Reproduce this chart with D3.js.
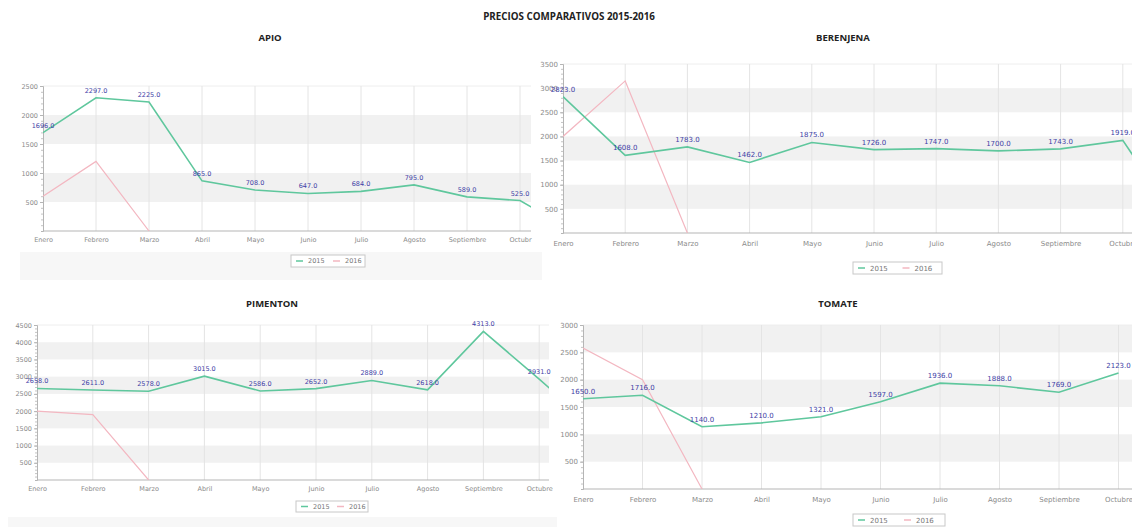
<!DOCTYPE html>
<html>
<head>
<meta charset="utf-8">
<script src="https://cdn.jsdelivr.net/npm/d3@7.9.0/dist/d3.min.js"></script>
<style>
  body { margin: 0; background: #fff; }
  svg { display: block; }
  .ttl { font-family: "Open Sans", sans-serif; font-weight: 700; fill: #222; }
</style>
</head>
<body>
<svg id="chart" width="1132" height="527"></svg>
<script>
// meses visibles + noviembre (recortado por el borde del grafico)
const meses = ["Enero", "Febrero", "Marzo", "Abril", "Mayo", "Junio", "Julio", "Agosto", "Septiembre", "Octubre"];
const mesesEje = [...meses, "Noviembre"];

const apio2015 = [1696, 2297, 2225, 865, 708, 647, 684, 795, 589, 525, 0];
const apio2016 = [600, 1200, 0];
const berenjena2015 = [2823, 1608, 1783, 1462, 1875, 1726, 1747, 1700, 1743, 1919, 0];
const berenjena2016 = [2000, 3150, 0];
const pimenton2015 = [2658, 2611, 2578, 3015, 2586, 2652, 2889, 2618, 4313, 2931, 1500];
const pimenton2016 = [2000, 1900, 0];
const tomate2015 = [1650, 1716, 1140, 1210, 1321, 1597, 1936, 1888, 1769, 2123];
const tomate2016 = [2580, 2000, 0];

const svg = d3.select("#chart");

svg.append("text").attr("class", "ttl")
  .attr("x", 569).attr("y", 20)
  .attr("text-anchor", "middle").attr("font-size", 9.8)
  .text("PRECIOS COMPARATIVOS 2015-2016");

let panelId = 0;
function drawPanel(cfg) {
  const id = "clip" + (panelId++);
  const g = svg.append("g");
  const fs = cfg.fs;

  // franja gris bajo la leyenda
  if (cfg.strip) {
    g.append("rect").attr("x", cfg.strip[0]).attr("y", cfg.strip[1])
      .attr("width", cfg.strip[2]).attr("height", cfg.strip[3])
      .attr("fill", "#f7f7f7");
  }

  g.append("text").attr("class", "ttl")
    .attr("x", cfg.tx).attr("y", cfg.ty)
    .attr("text-anchor", "middle").attr("font-size", 9.5)
    .text(cfg.title);

  const x = d3.scalePoint().domain(mesesEje)
    .range([cfg.x0, cfg.x0 + cfg.step * (mesesEje.length - 1)]);
  const y = d3.scaleLinear().domain([0, cfg.yMax]).range([cfg.yZero, cfg.yTop]);
  const right = cfg.right;

  g.append("clipPath").attr("id", id)
    .append("rect").attr("x", cfg.x0).attr("y", cfg.yTop - 20)
    .attr("width", right - cfg.x0).attr("height", cfg.yZero - cfg.yTop + 20);

  // bandas alternas
  const bands = d3.range(500, cfg.yMax, 1000);
  g.selectAll(".band").data(bands).join("rect")
    .attr("x", cfg.x0).attr("width", right - cfg.x0)
    .attr("y", d => y(d + 500)).attr("height", d => y(d) - y(d + 500))
    .attr("fill", "#f1f1f1");

  g.append("line").attr("x1", cfg.x0).attr("x2", right)
    .attr("y1", cfg.yTop).attr("y2", cfg.yTop).attr("stroke", "#eeeeee");

  // lineas verticales de la grilla
  g.append("g").attr("clip-path", `url(#${id})`)
    .selectAll("line").data(mesesEje).join("line")
    .attr("x1", d => x(d)).attr("x2", d => x(d))
    .attr("y1", cfg.yTop).attr("y2", cfg.yZero)
    .attr("stroke", "#e4e4e4");

  // eje y (menores + mayores)
  const yMinor = g.append("g").attr("transform", `translate(${cfg.x0},0)`)
    .call(d3.axisLeft(y).tickValues(d3.range(100, cfg.yMax + 1, 100)).tickSize(2).tickFormat(""));
  yMinor.select(".domain").attr("stroke", "#b5b5b5");
  yMinor.selectAll(".tick line").attr("stroke", "#c4c4c4");

  const yAxis = g.append("g").attr("transform", `translate(${cfg.x0},0)`)
    .call(d3.axisLeft(y).tickValues(d3.range(500, cfg.yMax + 1, 500)).tickSize(3).tickPadding(2).tickFormat(d3.format("d")));
  yAxis.select(".domain").remove();
  yAxis.selectAll(".tick line").attr("stroke", "#b5b5b5");
  yAxis.selectAll("text").attr("fill", "#8a8a8a").attr("font-size", fs)
    .attr("font-family", "DejaVu Sans, sans-serif");

  // eje x
  const xAxis = g.append("g").attr("transform", `translate(0,${cfg.yZero})`)
    .call(d3.axisBottom(x).tickValues(meses).tickSize(0).tickPadding(cfg.xPad));
  xAxis.select(".domain").attr("d", `M${cfg.x0},0H${right}`).attr("stroke", "#b5b5b5");
  xAxis.selectAll("text").attr("fill", "#8a8a8a").attr("font-size", fs)
    .attr("font-family", "DejaVu Sans, sans-serif");
  if (cfg.lastLabel) {
    xAxis.selectAll(".tick").filter(d => d === "Octubre").select("text").text(cfg.lastLabel);
  }

  const line = d3.line().x(d => x(d.mes)).y(d => y(d.v));
  const toPts = arr => arr.map((v, i) => ({ mes: mesesEje[i], v }));

  const plot = g.append("g").attr("clip-path", `url(#${id})`);
  plot.append("path").datum(toPts(cfg.s2016))
    .attr("d", line).attr("fill", "none")
    .attr("stroke", "#f3b7c1").attr("stroke-width", 1.2);
  plot.append("path").datum(toPts(cfg.s2015))
    .attr("d", line).attr("fill", "none")
    .attr("stroke", "#5fc79d").attr("stroke-width", 1.6);

  // etiquetas de valores 2015
  g.selectAll(".lbl").data(toPts(cfg.s2015).slice(0, meses.length)).join("text")
    .attr("x", d => x(d.mes)).attr("y", d => y(d.v) - 5)
    .attr("text-anchor", "middle")
    .attr("font-family", "DejaVu Sans, sans-serif").attr("font-size", fs)
    .attr("fill", "#3e3ea6")
    .text(d => d3.format(".1f")(d.v));

  // leyenda
  const lg = cfg.legend;
  const leg = g.append("g").attr("transform", `translate(${lg[0]},${lg[1]})`);
  leg.append("rect").attr("width", lg[2]).attr("height", lg[3])
    .attr("fill", "#fff").attr("stroke", "#c8c8c8");
  const items = [["2015", "#5fc79d"], ["2016", "#f3b7c1"]];
  const half = lg[2] / 2;
  items.forEach(([name, col], i) => {
    const ox = 5 + i * half;
    leg.append("line").attr("x1", ox).attr("x2", ox + 7)
      .attr("y1", lg[3] / 2).attr("y2", lg[3] / 2)
      .attr("stroke", col).attr("stroke-width", 1.5);
    leg.append("text").attr("x", ox + 12).attr("y", lg[3] / 2 + fs * 0.36)
      .attr("font-family", "DejaVu Sans, sans-serif").attr("font-size", fs)
      .attr("fill", "#777").text(name);
  });
}

drawPanel({
  title: "APIO", tx: 270, ty: 41, fs: 6.5,
  x0: 43, step: 53, right: 531, lastLabel: "Octubr",
  yMax: 2500, yZero: 231, yTop: 86, xPad: 6,
  s2015: apio2015, s2016: apio2016,
  legend: [291, 255, 74, 12], strip: [20, 252, 522, 28]
});
drawPanel({
  title: "BERENJENA", tx: 843, ty: 41, fs: 7,
  x0: 563, step: 62.2, right: 1132, lastLabel: null,
  yMax: 3500, yZero: 233, yTop: 64, xPad: 8,
  s2015: berenjena2015, s2016: berenjena2016,
  legend: [853, 262, 89, 12], strip: null
});
drawPanel({
  title: "PIMENTON", tx: 272, ty: 307, fs: 6.5,
  x0: 37, step: 55.8, right: 549, lastLabel: null,
  yMax: 4500, yZero: 480, yTop: 325, xPad: 6,
  s2015: pimenton2015, s2016: pimenton2016,
  legend: [296, 501, 72, 11], strip: [8, 517, 549, 10]
});
drawPanel({
  title: "TOMATE", tx: 838, ty: 307, fs: 7,
  x0: 583, step: 59.5, right: 1132, lastLabel: null,
  yMax: 3000, yZero: 489, yTop: 325, xPad: 8,
  s2015: tomate2015, s2016: tomate2016,
  legend: [853, 514, 92, 12], strip: null
});
</script>
</body>
</html>
